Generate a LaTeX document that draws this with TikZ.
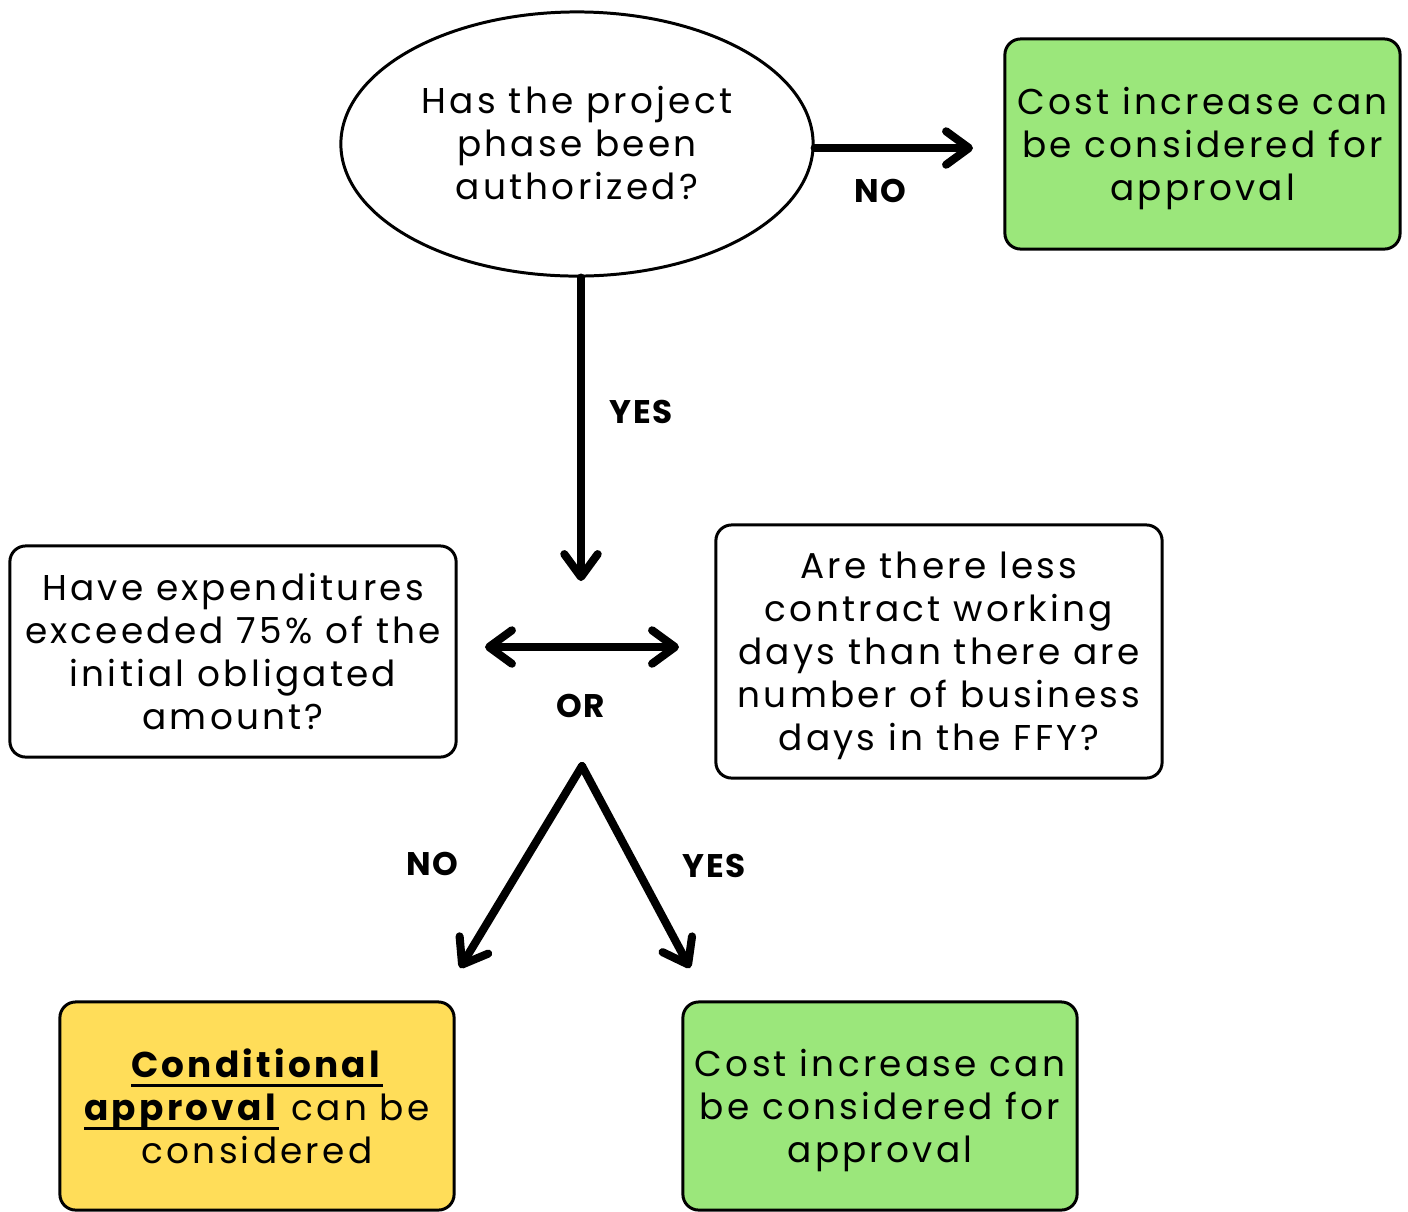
\documentclass[tikz,border=0pt]{standalone}
\usepackage{fontspec}
\setmainfont{Poppins}[LetterSpace=9]
\newfontfamily\labelfont{Poppins}[LetterSpace=5]
\usetikzlibrary{shapes.geometric,arrows.meta}
\definecolor{boxgreen}{HTML}{9BE77B}
\definecolor{boxyellow}{HTML}{FFDD59}
\newcommand\myul[1]{\setbox0\hbox{#1}\rlap{\rule[-2.8pt]{\wd0}{0.9pt}}\box0\relax}
\tikzset{
  boxnode/.style={draw=black, line width=0.85pt, rounded corners=4.5pt, align=center, inner sep=0pt,
     text depth=0pt, font=\fontsize{10.2}{12.2}\selectfont},
  qtext/.style={align=center, font=\fontsize{10.2}{12.2}\selectfont},
  lbl/.style={font=\labelfont\bfseries\fontsize{9.3}{11}\selectfont},
  bigarrow/.style={line width=2.3pt, line cap=round,
     -{Straight Barb[length=6.5pt,width=9.5pt,line cap=round,line join=round]}},
  dblarrow/.style={line width=2.3pt, line cap=round,
     {Straight Barb[length=6.5pt,width=9.5pt,line cap=round,line join=round]}-{Straight Barb[length=6.5pt,width=9.5pt,line cap=round,line join=round]}}
}
\begin{document}
\begin{tikzpicture}[x=0.01cm,y=-0.01cm]
\useasboundingbox (0,0) rectangle (1408,1211);
% question ellipse
\node[ellipse, draw=black, line width=0.85pt, minimum width=4.72cm, minimum height=2.64cm, inner sep=0pt] (q) at (577,144) {};
\node[qtext] (qt) at (577,143) {Has the project\\phase been\\authorized?};
% top right green box
\node[boxnode, fill=boxgreen, minimum width=3.95cm, minimum height=2.10cm] (g1) at (1202.5,144) {Cost increase can\\be considered for\\approval};
% left box
\node[boxnode, fill=white, minimum width=4.46cm, minimum height=2.11cm] (lb) at (233,651.5) {Have expenditures\\exceeded 75\% of the\\initial obligated\\amount?};
% right box
\node[boxnode, fill=white, minimum width=4.46cm, minimum height=2.53cm] (rb) at (939,651.5) {Are there less\\contract working\\days than there are\\number of business\\days in the FFY?};
% bottom boxes
\node[boxnode, fill=boxyellow, minimum width=3.94cm, minimum height=2.08cm] (yb) at (257,1106) {\myul{\textbf{Conditional}}\\\myul{\textbf{approval}} can be\\considered};
\node[boxnode, fill=boxgreen, minimum width=3.94cm, minimum height=2.08cm] (g2) at (880,1106) {Cost increase can\\be considered for\\approval};
% coordinates
\coordinate (nend) at (973,148);
\coordinate (vend) at (581,581);
\coordinate (dl) at (485,647);
\coordinate (dr) at (679,647);
\coordinate (apex) at (582,766);
\coordinate (vl) at (460,968);
\coordinate (vr) at (690,968);
% connectors
\draw[bigarrow] (q.east |- nend) -- (nend);
\draw[bigarrow] (q.south -| vend) -- (vend);
\draw[dblarrow] (dl) -- (dr);
\draw[bigarrow] (apex) -- (vl);
\draw[bigarrow] (apex) -- (vr);
% labels
\node[lbl] (lno1) at (880,191) {NO};
\node[lbl] (lyes1) at (641,412) {YES};
\node[lbl] (lor) at (581,706) {OR};
\node[lbl] (lno2) at (432,864) {NO};
\node[lbl] (lyes2) at (714,866) {YES};
\end{tikzpicture}
\end{document}
